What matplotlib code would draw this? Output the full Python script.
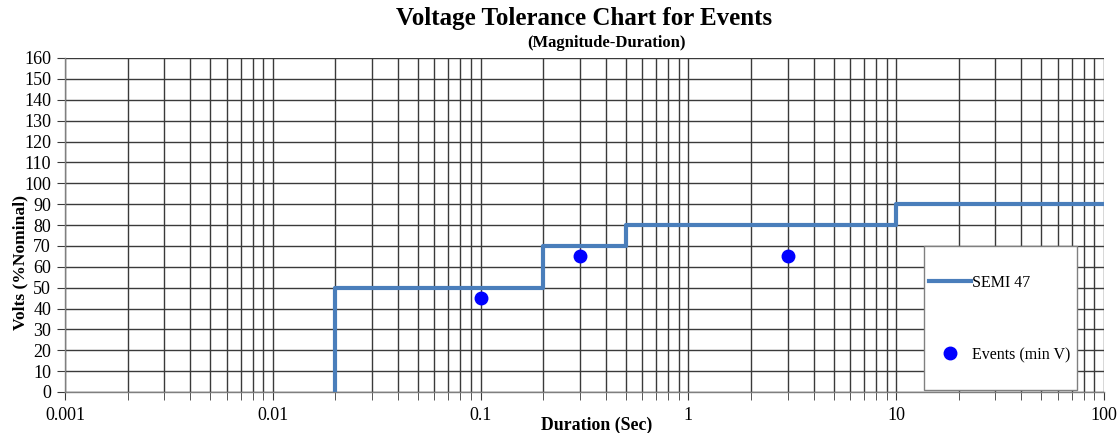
import matplotlib
matplotlib.use("Agg")
import matplotlib.pyplot as plt
from matplotlib.patches import Rectangle
from matplotlib.ticker import LogLocator, FixedLocator, NullFormatter, FixedFormatter

# Data
semi_x = [0.02, 0.02, 0.2, 0.2, 0.5, 0.5, 10, 10, 100]
semi_y = [0, 50, 50, 70, 70, 80, 80, 90, 90]
event_x = [0.1, 0.3, 3]
event_y = [45, 65, 65]
xtick_vals = [0.001, 0.01, 0.1, 1, 10, 100]
xtick_labels = ["0.001", "0.01", "0.1", "1", "10", "100"]
ytick_vals = list(range(0, 161, 10))

plt.rcParams['font.family'] = ['Liberation Serif', 'DejaVu Serif']

fig = plt.figure(figsize=(11.2, 4.33), dpi=100)
L, R, T, B = 65, 1104, 58, 392
ax = fig.add_axes([L/1120, 1-B/433, (R-L)/1120, (B-T)/433])

ax.set_xscale('log')
ax.set_xlim(0.001, 100)
ax.set_ylim(0, 160)

ax.xaxis.set_major_locator(FixedLocator(xtick_vals))
ax.xaxis.set_major_formatter(FixedFormatter(xtick_labels))
ax.xaxis.set_minor_locator(LogLocator(base=10, subs=range(2, 10), numticks=20))
ax.xaxis.set_minor_formatter(NullFormatter())
ax.yaxis.set_major_locator(FixedLocator(ytick_vals))

gc = '#3a3a3a'
ax.grid(True, which='major', axis='both', color=gc, linewidth=1.0)
ax.grid(True, which='minor', axis='x', color=gc, linewidth=1.0)
ax.set_axisbelow(True)

for s in ['top', 'right']:
    ax.spines[s].set_visible(False)
for s in ['left', 'bottom']:
    ax.spines[s].set_color('#7f7f7f')
    ax.spines[s].set_linewidth(1.0)

ax.tick_params(axis='both', which='major', direction='out', length=6, color='#3a3a3a',
               labelsize=13, pad=4)
ax.tick_params(axis='x', which='minor', direction='out', length=6, color='#3a3a3a')
ax.tick_params(axis='x', which='major', pad=5)

ax.plot(semi_x, semi_y, color='#4a7ebb', linewidth=3, label='SEMI 47', zorder=3)
ax.plot(event_x, event_y, linestyle='none', marker='o', markersize=9,
        color='#0000ff', label='Events (min V)', zorder=4)

# legend box
bx0 = (924-L)/(R-L)
by0 = (B-390)/(B-T)
bw = (1077-924)/(R-L)
bh = (390-246)/(B-T)
ax.add_patch(Rectangle((bx0, by0), bw, bh, transform=ax.transAxes, facecolor='white',
                       edgecolor='#808080', linewidth=1.0, zorder=5, clip_on=False))

leg = ax.legend(loc='upper left', bbox_to_anchor=((929-L)/(R-L), (B-275)/(B-T)),
                frameon=False, fontsize=11.5, handlelength=2.6, handletextpad=0.1,
                labelspacing=3.5, borderpad=0, borderaxespad=0)
leg.set_zorder(6)

fig.text(584/1120, 1-18/433, 'Voltage Tolerance Chart for Events', ha='center', va='center',
         fontsize=18, fontweight='bold')
fig.text(607/1120, 1-43/433, '(Magnitude-Duration)', ha='center', va='center',
         fontsize=12, fontweight='bold')

ax.set_xlabel('Duration (Sec)', fontsize=12.8, fontweight='bold')
ax.set_ylabel('Volts (%Nominal)', fontsize=12.6, fontweight='bold')
ax.xaxis.set_label_coords((597-L)/(R-L), (B-425)/(B-T))
ax.yaxis.set_label_coords((20-L)/(R-L), (B-262)/(B-T))
ax.xaxis.label.set_va('center')
ax.yaxis.label.set_va('center')

fig.savefig('out.png', dpi=100)
